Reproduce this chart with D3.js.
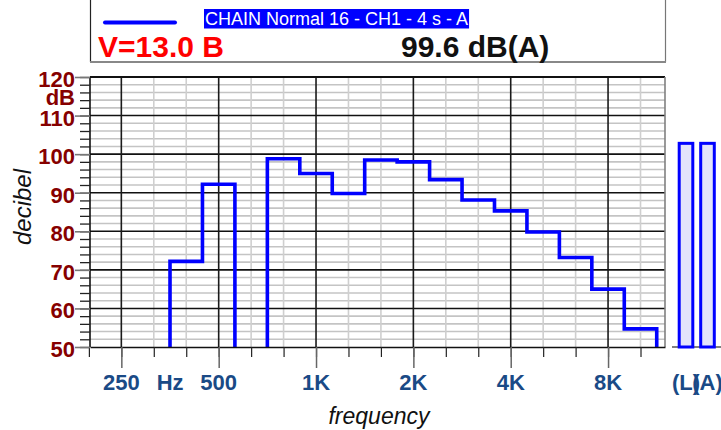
<!DOCTYPE html>
<html>
<head>
<meta charset="utf-8">
<script src="https://cdn.jsdelivr.net/npm/d3@7"></script>
<style>
body { margin: 0; background: #fff; }
svg { display: block; font-family: "Liberation Sans", Arial, sans-serif; }
</style>
</head>
<body>
<script>
// third octave bands (nominal Hz) and levels in dB
var bandFreqs = [400, 500, 630, 800, 1000, 1250, 1600, 2000, 2500, 3150, 4000, 5000, 6300, 8000, 10000];
var bandLevels = [72.2, 92.2, 45, 98.8, 95.0, 89.8, 98.5, 98.0, 93.4, 88.1, 85.3, 79.8, 73.2, 65.0, 54.7];
var totalLabels = ["(L)", "(A)"];
var totalLevels = [102.8, 102.8];
var xTickLabels = ["250", "Hz", "500", "1K", "2K", "4K", "8K"];
var xTickFreqs = [250, 354, 500, 1000, 2000, 4000, 8000];
var yTickLabels = ["120", "dB", "110", "100", "90", "80", "70", "60", "50"];
var yTickValues = [120, 115.3, 110, 100, 90, 80, 70, 60, 50];
var legendText = "CHAIN Normal 16 - CH1 - 4 s - A";
var voltText = "V=13.0 B";
var levelText = "99.6 dB(A)";

var W = 721, H = 430;
var plot = {left: 90, right: 665, top: 77, bottom: 347};
var floorDb = 40;

var svg = d3.select('body').append('svg')
    .attr('width', W)
    .attr('height', H);

var xScale = d3.scaleLog().base(2)
    .domain([200, 12000])
    .range([plot.left, plot.right]);

var yScale = d3.scaleLinear()
    .domain([50, 120])
    .range([plot.bottom, plot.top]);

// snap a nominal band frequency to the exact third octave value
function exact(f) {
    return 1000 * Math.pow(2, Math.round(3 * Math.log2(f / 1000)) / 3);
}

var thirds = d3.range(-7, 11).map(function (n) { return 1000 * Math.pow(2, n / 3); });
var isMajorF = function (f) { return Math.round(3 * Math.log2(f / 1000)) % 3 === 0; };

// gridlines
var grid = svg.append('g');
var dbLines = d3.range(52, 120, 2);

grid.selectAll('.hminor')
    .data(dbLines.filter(function (d) { return d % 10 !== 0; }))
    .enter().append('line')
    .attr('x1', plot.left).attr('x2', plot.right)
    .attr('y1', function (d) { return yScale(d); })
    .attr('y2', function (d) { return yScale(d); })
    .attr('stroke', '#c4c4c4').attr('stroke-width', 1.6);

grid.selectAll('.vminor')
    .data(thirds.filter(function (f) { return !isMajorF(f) && f > 210; }))
    .enter().append('line')
    .attr('x1', function (d) { return xScale(d); })
    .attr('x2', function (d) { return xScale(d); })
    .attr('y1', plot.top).attr('y2', plot.bottom)
    .attr('stroke', '#cfcfcf').attr('stroke-width', 1.6);

grid.selectAll('.hmajor')
    .data(dbLines.filter(function (d) { return d % 10 === 0; }))
    .enter().append('line')
    .attr('x1', plot.left).attr('x2', plot.right)
    .attr('y1', function (d) { return yScale(d); })
    .attr('y2', function (d) { return yScale(d); })
    .attr('stroke', '#111').attr('stroke-width', 1.6);

grid.selectAll('.vmajor')
    .data(thirds.filter(isMajorF))
    .enter().append('line')
    .attr('x1', function (d) { return xScale(d); })
    .attr('x2', function (d) { return xScale(d); })
    .attr('y1', plot.top).attr('y2', plot.bottom)
    .attr('stroke', '#1a1a1a').attr('stroke-width', 1.6);

// step line of the band levels
svg.append('clipPath').attr('id', 'clip')
    .append('rect')
    .attr('x', plot.left).attr('y', plot.top - 5)
    .attr('width', plot.right - plot.left)
    .attr('height', plot.bottom - plot.top + 5);

var pts = [];
bandFreqs.forEach(function (f, i) {
    var c = exact(f);
    var lo = c * Math.pow(2, -1 / 6), hi = c * Math.pow(2, 1 / 6);
    if (i === 0) pts.push([lo, floorDb]);
    pts.push([lo, bandLevels[i]]);
    pts.push([hi, bandLevels[i]]);
    if (i === bandFreqs.length - 1) pts.push([hi, floorDb]);
});

var line = d3.line()
    .x(function (d) { return xScale(d[0]); })
    .y(function (d) { return yScale(d[1]); });

svg.append('path')
    .datum(pts)
    .attr('clip-path', 'url(#clip)')
    .attr('d', line)
    .attr('fill', 'none')
    .attr('stroke', '#0000ff')
    .attr('stroke-width', 3.6)
    .attr('stroke-linejoin', 'miter');

// plot borders
svg.append('line')
    .attr('x1', plot.left).attr('x2', plot.right)
    .attr('y1', plot.top).attr('y2', plot.top)
    .attr('stroke', '#111').attr('stroke-width', 2);
svg.append('line')
    .attr('x1', plot.left).attr('x2', plot.left)
    .attr('y1', plot.top).attr('y2', plot.bottom)
    .attr('stroke', '#111').attr('stroke-width', 1.6);
svg.append('line')
    .attr('x1', plot.right).attr('x2', plot.right)
    .attr('y1', plot.top).attr('y2', plot.bottom)
    .attr('stroke', '#808080').attr('stroke-width', 1.6);

// x axis ticks
svg.append('g')
    .attr('transform', 'translate(0,' + plot.bottom + ')')
    .call(d3.axisBottom(xScale).tickValues(thirds).tickSize(10).tickSizeOuter(0).tickFormat(''))
    .call(function (g) {
        g.select('.domain').attr('stroke', '#111').attr('stroke-width', 1.6);
        g.selectAll('.tick line').attr('stroke', '#222').attr('stroke-width', 1.2);
    });
svg.append('g')
    .attr('transform', 'translate(0,' + plot.bottom + ')')
    .call(d3.axisBottom(xScale).tickValues(thirds.filter(isMajorF)).tickSize(21).tickSizeOuter(0).tickFormat(''))
    .call(function (g) {
        g.select('.domain').remove();
        g.selectAll('.tick line').attr('stroke', '#666').attr('stroke-width', 1.5);
    });

// y axis ticks
svg.append('g')
    .attr('transform', 'translate(' + plot.left + ',0)')
    .call(d3.axisLeft(yScale).tickValues(d3.range(50, 121, 2)).tickSize(10).tickSizeOuter(0).tickFormat(''))
    .call(function (g) {
        g.select('.domain').remove();
        g.selectAll('.tick line').attr('stroke', '#222').attr('stroke-width', 1.3);
    });
svg.append('g')
    .attr('transform', 'translate(' + plot.left + ',0)')
    .call(d3.axisLeft(yScale).tickValues(d3.range(50, 121, 10)).tickSize(15).tickSizeOuter(0).tickFormat(''))
    .call(function (g) {
        g.select('.domain').remove();
        g.selectAll('.tick line').attr('stroke', '#777').attr('stroke-width', 1.6);
    });

// y labels
svg.selectAll('.ylab')
    .data(yTickLabels)
    .enter().append('text')
    .attr('x', 75)
    .attr('y', function (d, i) { return yScale(yTickValues[i]) + 10; })
    .attr('text-anchor', 'end')
    .attr('font-size', 22).attr('font-weight', 'bold')
    .attr('fill', '#860000')
    .text(function (d) { return d; });

// x labels
svg.selectAll('.xlab')
    .data(xTickLabels)
    .enter().append('text')
    .attr('x', function (d, i) { return xScale(xTickFreqs[i]); })
    .attr('y', 390)
    .attr('text-anchor', 'middle')
    .attr('font-size', 22).attr('font-weight', 'bold')
    .attr('fill', '#1a4a86')
    .text(function (d) { return d; });

// overall level bars
var barX = d3.scalePoint().domain(totalLabels).range([686, 707.5]);
var barW = 13.6;

svg.append('line')
    .attr('x1', 672).attr('x2', W)
    .attr('y1', plot.bottom).attr('y2', plot.bottom)
    .attr('stroke', '#555').attr('stroke-width', 1.6);

svg.selectAll('.total')
    .data(totalLabels)
    .enter().append('rect')
    .attr('x', function (d) { return barX(d) - barW / 2; })
    .attr('y', function (d, i) { return yScale(totalLevels[i]); })
    .attr('width', barW)
    .attr('height', function (d, i) { return plot.bottom - yScale(totalLevels[i]); })
    .attr('fill', '#e3e3fb')
    .attr('stroke', '#0000ff')
    .attr('stroke-width', 3);

svg.selectAll('.totlab')
    .data(totalLabels)
    .enter().append('text')
    .attr('x', function (d) { return barX(d); })
    .attr('y', 390)
    .attr('text-anchor', 'middle')
    .attr('font-size', 22).attr('font-weight', 'bold')
    .attr('fill', '#1a4a86')
    .text(function (d) { return d; });

// axis titles
svg.append('text')
    .attr('transform', 'translate(31,207) rotate(-90)')
    .attr('text-anchor', 'middle')
    .attr('font-size', 24).attr('font-style', 'italic')
    .attr('fill', '#111')
    .text('decibel');

svg.append('text')
    .attr('x', 379).attr('y', 424)
    .attr('text-anchor', 'middle')
    .attr('font-size', 23).attr('font-style', 'italic')
    .attr('fill', '#111')
    .text('frequency');

// legend box
svg.append('line')
    .attr('x1', 90.5).attr('x2', 90.5).attr('y1', 0).attr('y2', 62)
    .attr('stroke', '#222').attr('stroke-width', 1.2);
svg.append('line')
    .attr('x1', 665.5).attr('x2', 665.5).attr('y1', 0).attr('y2', 62)
    .attr('stroke', '#777').attr('stroke-width', 1.2);
svg.append('line')
    .attr('x1', 90).attr('x2', 666).attr('y1', 62).attr('y2', 62)
    .attr('stroke', '#888').attr('stroke-width', 2);

svg.append('line')
    .attr('x1', 105).attr('x2', 175)
    .attr('y1', 22.5).attr('y2', 22.5)
    .attr('stroke', '#0000ff').attr('stroke-width', 4)
    .attr('stroke-linecap', 'round');

var lt = svg.append('text')
    .attr('x', 205).attr('y', 25)
    .attr('font-size', 18)
    .attr('fill', '#fff')
    .text(legendText);
var bb = lt.node().getBBox();
svg.insert('rect', function () { return lt.node(); })
    .attr('x', 204).attr('y', 9)
    .attr('width', bb.width + 2).attr('height', 19.5)
    .attr('fill', '#0000ff');

svg.append('text')
    .attr('x', 98).attr('y', 57)
    .attr('font-size', 30).attr('font-weight', 'bold')
    .attr('fill', '#ff0000')
    .text(voltText);

svg.append('text')
    .attr('x', 401).attr('y', 57)
    .attr('font-size', 30).attr('font-weight', 'bold')
    .attr('fill', '#111')
    .text(levelText);
</script>
</body>
</html>
